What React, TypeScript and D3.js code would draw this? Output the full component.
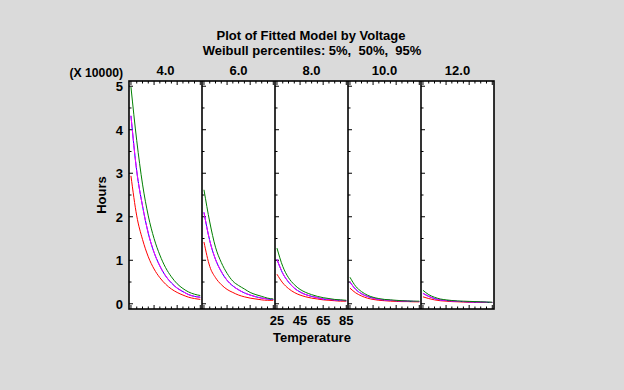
import React from "react";
import * as d3 from "d3";

// temperatures at which each percentile curve is read
const temps = [25, 30, 35, 40, 45, 50, 55, 60, 65, 70, 75, 80, 85];
const voltages = ["4.0", "6.0", "8.0", "10.0", "12.0"];

// hours (x 10000), one row per voltage
const pct95 = [
  [4.98, 3.75, 2.75, 2.02, 1.5, 1.12, 0.83, 0.62, 0.46, 0.35, 0.27, 0.22, 0.19],
  [2.62, 1.88, 1.3, 0.95, 0.7, 0.52, 0.42, 0.34, 0.26, 0.21, 0.17, 0.13, 0.11],
  [1.28, 0.86, 0.6, 0.44, 0.33, 0.26, 0.21, 0.17, 0.14, 0.12, 0.1, 0.09, 0.08],
  [0.61, 0.4, 0.28, 0.2, 0.15, 0.12, 0.1, 0.09, 0.08, 0.07, 0.065, 0.06, 0.06],
  [0.31, 0.21, 0.15, 0.11, 0.09, 0.075, 0.065, 0.06, 0.055, 0.05, 0.045, 0.04, 0.035],
];
const pct50 = [
  [4.32, 3.05, 2.25, 1.62, 1.18, 0.87, 0.64, 0.48, 0.36, 0.28, 0.21, 0.17, 0.15],
  [2.1, 1.45, 1.02, 0.74, 0.54, 0.41, 0.32, 0.25, 0.2, 0.16, 0.13, 0.11, 0.1],
  [1.02, 0.7, 0.5, 0.36, 0.27, 0.21, 0.17, 0.14, 0.11, 0.1, 0.09, 0.08, 0.07],
  [0.5, 0.33, 0.23, 0.17, 0.13, 0.1, 0.09, 0.08, 0.07, 0.065, 0.06, 0.055, 0.05],
  [0.24, 0.17, 0.12, 0.09, 0.075, 0.065, 0.055, 0.05, 0.045, 0.04, 0.04, 0.035, 0.03],
];
const pct5 = [
  [2.94, 2.02, 1.48, 1.08, 0.8, 0.6, 0.45, 0.34, 0.26, 0.2, 0.15, 0.12, 0.1],
  [1.42, 0.86, 0.6, 0.44, 0.33, 0.26, 0.2, 0.16, 0.13, 0.11, 0.09, 0.08, 0.08],
  [0.68, 0.48, 0.35, 0.26, 0.2, 0.16, 0.13, 0.11, 0.09, 0.08, 0.07, 0.06, 0.06],
  [0.36, 0.25, 0.18, 0.13, 0.1, 0.08, 0.07, 0.06, 0.055, 0.05, 0.05, 0.045, 0.045],
  [0.16, 0.12, 0.09, 0.07, 0.06, 0.05, 0.045, 0.04, 0.035, 0.035, 0.03, 0.03, 0.03],
];

const yTickLabels = [0, 1, 2, 3, 4, 5];
const xTickLabels = [25, 45, 65, 85];

const W = 624;
const H = 390;
const left = 129;
const right = 494;
const top = 81;
const bottom = 309;
const font = "'Liberation Sans', Arial, sans-serif";

export default function App() {
  const panelW = (right - left) / voltages.length;
  const y = d3.scaleLinear().domain([-0.12, 5.12]).range([bottom, top]);
  const band = d3.scaleBand().domain(voltages).range([left, right]);

  const minorX = d3.range(25, 86, 5);
  const minorY = d3.range(0, 5.01, 0.5);

  return (
    <svg
      width={W}
      height={H}
      style={{ position: "absolute", left: 0, top: 0, display: "block" }}
      fontFamily={font}
      fontWeight="bold"
      fontSize={13}
    >
      <rect width={W} height={H} fill="#dadada" />
      <rect x={left} y={top} width={right - left} height={bottom - top} fill="#fff" />

      <text x={311} y={40} textAnchor="middle">
        Plot of Fitted Model by Voltage
      </text>
      <text x={312} y={55} textAnchor="middle" xmlSpace="preserve">
        {"Weibull percentiles: 5%,  50%,  95%"}
      </text>
      <text x={123} y={76.5} textAnchor="end" fontSize={12.2}>
        (X 10000)
      </text>

      {voltages.map((v, i) => {
        const x0 = band(v)!;
        const x = d3.scaleLinear().domain([23.3, 86.5]).range([x0, x0 + panelW]);
        const line = d3
          .line<number>()
          .x((_, j) => x(temps[j]))
          .y((d) => y(d))
          .curve(d3.curveMonotoneX);
        return (
          <g key={v}>
            <text x={x0 + panelW / 2} y={75} textAnchor="middle">
              {v}
            </text>
            {minorX.map((t) => {
              const len = xTickLabels.includes(t) ? 4 : 2.5;
              return (
                <g key={t} stroke="#000" strokeWidth={1}>
                  <line x1={x(t)} x2={x(t)} y1={top} y2={top + len} />
                  <line x1={x(t)} x2={x(t)} y1={bottom} y2={bottom - len} />
                </g>
              );
            })}
            {minorY.map((d) => {
              const len = Number.isInteger(d) ? 4 : 2.5;
              return (
                <line key={d} x1={x0} x2={x0 + len} y1={y(d)} y2={y(d)} stroke="#000" />
              );
            })}
            <path d={line(pct5[i])!} fill="none" stroke="#ff0000" strokeWidth={1} />
            <path d={line(pct50[i])!} fill="none" stroke="#0000ff" strokeWidth={1} />
            <path
              d={line(pct50[i])!}
              fill="none"
              stroke="#ff00ff"
              strokeWidth={1}
              strokeDasharray="12 1.5"
            />
            <path d={line(pct95[i])!} fill="none" stroke="#008000" strokeWidth={1} />
            {i > 0 && (
              <line x1={x0} x2={x0} y1={top} y2={bottom} stroke="#000" strokeWidth={1.6} />
            )}
            {i === 2 &&
              xTickLabels.map((t) => (
                <text key={t} x={x(t)} y={325} textAnchor="middle">
                  {t}
                </text>
              ))}
          </g>
        );
      })}

      <rect
        x={left}
        y={top}
        width={right - left}
        height={bottom - top}
        fill="none"
        stroke="#000"
        strokeWidth={1.6}
      />

      {yTickLabels.map((d) => (
        <text key={d} x={123} y={y(d)} dy="0.38em" textAnchor="end">
          {d}
        </text>
      ))}
      <text transform={`translate(106,${(top + bottom) / 2}) rotate(-90)`} textAnchor="middle">
        Hours
      </text>
      <text x={312} y={342} textAnchor="middle">
        Temperature
      </text>
    </svg>
  );
}
